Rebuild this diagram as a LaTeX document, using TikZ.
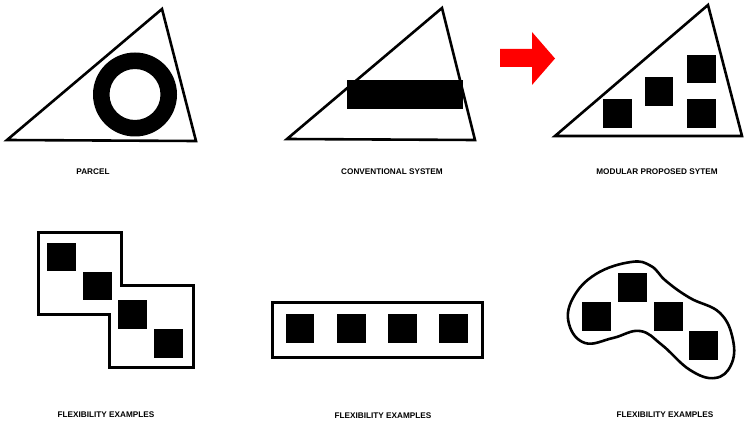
\documentclass[tikz,border=0pt]{standalone}
\usepackage{fontspec}
\setmainfont{Liberation Sans}
\begin{document}
\begin{tikzpicture}[x=1pt,y=-1pt,
  outline/.style={draw=black,line width=2.6pt,line join=miter},
  blk/.style={fill=black},
  lbl/.style={font=\bfseries\fontsize{8.2}{9}\selectfont,inner sep=0pt,anchor=center}]
\useasboundingbox (0,0) rectangle (745,425);
\fill[white] (0,0) rectangle (745,425);
% --- Parcel
\draw[outline] (7,140) -- (162,9) -- (196,141) -- cycle;
\fill[black,even odd rule] (135,94.5) circle (42) (135,94.5) circle (25.5);
\node[lbl] (parcel) at (93,172) {PARCEL};
% --- Conventional
\draw[outline] (287,139) -- (442,8) -- (475,140) -- cycle;
\fill[blk] (347,80) rectangle (463,109);
\node[lbl] (conv) at (392,172) {CONVENTIONAL SYSTEM};
% --- Arrow
\fill[red] (500,49) -- (532,49) -- (532,32) -- (555,58.5) -- (532,85) -- (532,67) -- (500,67) -- cycle;
% --- Modular
\draw[outline] (555,136) -- (708,5) -- (742,136) -- cycle;
\fill[blk] (603,99) rectangle (632,128);
\fill[blk] (645,77) rectangle (673,106);
\fill[blk] (687,55) rectangle (716,83);
\fill[blk] (687,99) rectangle (716,128);
\node[lbl] (mod) at (657,172) {MODULAR PROPOSED SYTEM};
% --- Flex 1
\draw[outline,line width=3pt] (38,233) -- (121,233) -- (121,285) -- (193,285) -- (193,367) -- (109,367) -- (109,314) -- (38,314) -- cycle;
\fill[blk] (47,243) rectangle (76,271);
\fill[blk] (83,272) rectangle (112,300);
\fill[blk] (118,300) rectangle (147,329);
\fill[blk] (154,329) rectangle (183,358);
\node[lbl] (flex1) at (106,415) {FLEXIBILITY EXAMPLES};
% --- Flex 2
\draw[outline,line width=3pt] (272,302) rectangle (482,357);
\fill[blk] (286,314) rectangle (314,343);
\fill[blk] (337,314) rectangle (366,343);
\fill[blk] (388,314) rectangle (417,343);
\fill[blk] (439,314) rectangle (468,343);
\node[lbl] (flex2) at (383,416) {FLEXIBILITY EXAMPLES};
% --- Flex 3
\draw[draw=black,line width=2.6pt] plot[smooth cycle,tension=0.7] coordinates {
 (631,262) (596,274) (573,298) (569,324) (585,343) (613,338) (640,331)
 (662,345) (690,370) (715,378) (731,365) (733,340) (720,313) (690,298)
 (666,281) (651,266)};
\fill[blk] (582,302) rectangle (611,331);
\fill[blk] (618,273) rectangle (647,302);
\fill[blk] (654,302) rectangle (683,331);
\fill[blk] (689,331) rectangle (718,360);
\node[lbl] (flex3) at (665,415) {FLEXIBILITY EXAMPLES};
\end{tikzpicture}
\end{document}
